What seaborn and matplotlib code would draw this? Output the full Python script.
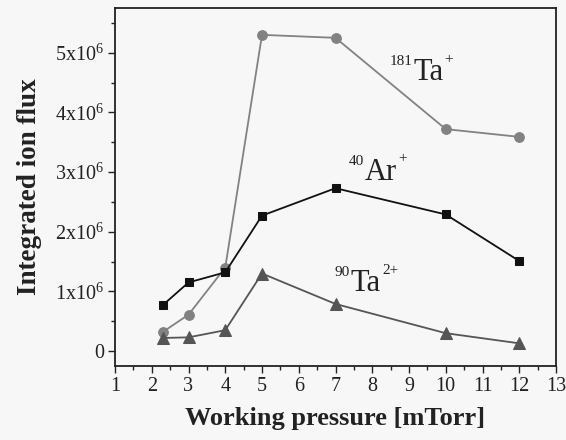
import matplotlib
matplotlib.use("Agg")
import matplotlib.pyplot as plt
import seaborn as sns
import pandas as pd
from matplotlib.ticker import MultipleLocator

pressure = [2.3, 3, 4, 5, 7, 10, 12]
ta181 = [0.32e6, 0.61e6, 1.40e6, 5.30e6, 5.25e6, 3.72e6, 3.59e6]
ar40 = [0.77e6, 1.15e6, 1.32e6, 2.27e6, 2.73e6, 2.29e6, 1.51e6]
ta90 = [0.22e6, 0.23e6, 0.35e6, 1.30e6, 0.79e6, 0.30e6, 0.13e6]
yticks = [0, 1e6, 2e6, 3e6, 4e6, 5e6]
ytick_labels = ["0", "1x10$^6$", "2x10$^6$", "3x10$^6$", "4x10$^6$", "5x10$^6$"]
xticks = list(range(1, 14))
# ion labels: (mass prefix, element, charge suffix)
ion_labels = [("181", "Ta", "+"), ("40", "Ar", "+"), ("90", "Ta", "2+")]

sns.set_theme(style="ticks")
plt.rcParams['font.family'] = ['Liberation Serif', 'DejaVu Serif']
plt.rcParams['mathtext.fontset'] = 'custom'
plt.rcParams['mathtext.rm'] = 'Liberation Serif'
plt.rcParams['mathtext.it'] = 'Liberation Serif:italic'
plt.rcParams['mathtext.bf'] = 'Liberation Serif:bold'

bg = '#f7f7f7'
ink = '#222222'
fig = plt.figure(figsize=(5.66, 4.4), dpi=100, facecolor=bg)
ax = fig.add_axes([115/566, 1-366/440, (556-115)/566, (366-8)/440])
ax.set_facecolor(bg)

df = pd.DataFrame({"p": pressure, "ta181": ta181, "ar40": ar40, "ta90": ta90})

sns.lineplot(data=df, x="p", y="ta181", ax=ax, color="#828282", marker="o",
             markersize=7, markeredgecolor="#828282", linewidth=1.3)
sns.lineplot(data=df, x="p", y="ar40", ax=ax, color="#111111", marker="s",
             markersize=6, markeredgecolor="#111111", linewidth=1.3)
sns.lineplot(data=df, x="p", y="ta90", ax=ax, color="#555555", marker="^",
             markersize=8, markeredgecolor="#555555", linewidth=1.3)

ax.set_xlim(1, 13)
ax.set_ylim(-0.25e6, 5.75e6)
ax.set_xticks(xticks)
ax.set_xticklabels([str(t) for t in xticks])
ax.xaxis.set_minor_locator(MultipleLocator(0.5))
ax.set_yticks(yticks)
ax.set_yticklabels(ytick_labels)
ax.yaxis.set_minor_locator(MultipleLocator(0.5e6))

ax.tick_params(axis='both', which='major', direction='out', length=5, width=1.0,
               labelsize=14.5, colors=ink, pad=3)
ax.tick_params(axis='both', which='minor', direction='out', length=3, width=1.0,
               colors=ink)
for s in ax.spines.values():
    s.set_linewidth(1.3)
    s.set_color(ink)
    s.set_visible(True)

ax.set_xlabel("Working pressure [mTorr]", fontsize=19, fontweight='bold', labelpad=8, color=ink)
ax.set_ylabel("Integrated ion flux", fontsize=19.5, fontweight='bold', labelpad=9, color=ink)

# label anchor positions (start of element symbol, baseline)
label_pos = [(9.11, 4.54e6), (7.80, 2.87e6), (7.42, 1.00e6)]
main_size = 22
sup_size = 11
renderer = fig.canvas.get_renderer()
for (pre, elem, suf), (lx, ly) in zip(ion_labels, label_pos):
    t = ax.text(lx, ly, elem, fontsize=main_size, color=ink, ha='left', va='baseline')
    ax.annotate(pre, xy=(lx, ly), xytext=(-0.5, 11), textcoords='offset points',
                fontsize=sup_size, color=ink, ha='right', va='baseline')
    bb = t.get_window_extent(renderer=renderer)
    x_end = ax.transData.inverted().transform((bb.x1, bb.y0))[0]
    ax.annotate(suf, xy=(x_end, ly), xytext=(1.0, 12.5), textcoords='offset points',
                fontsize=sup_size, color=ink, ha='left', va='baseline')

fig.savefig("out.png", dpi=100, facecolor=bg)
